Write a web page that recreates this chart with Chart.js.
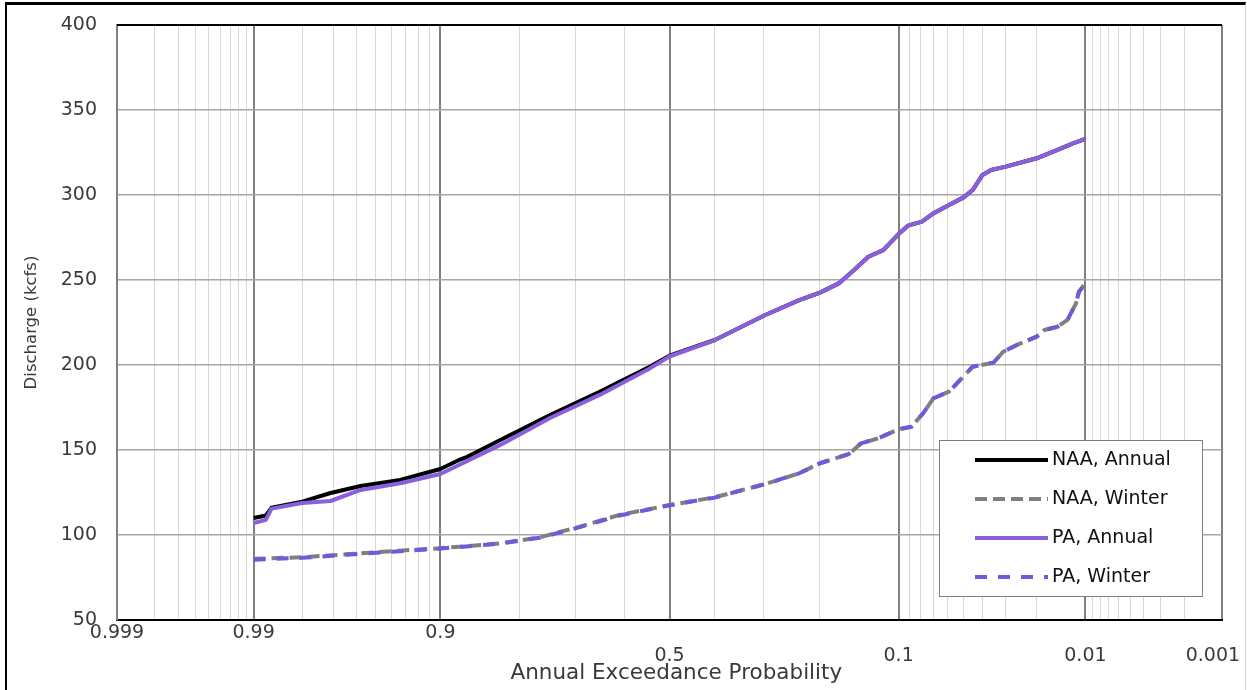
<!DOCTYPE html>
<html>
<head>
<meta charset="utf-8">
<script src="https://cdn.jsdelivr.net/npm/chart.js@4.4.0/dist/chart.umd.min.js"></script>
<style>
  html, body { margin: 0; padding: 0; background: #fff; }
  #wrap { position: relative; width: 1247px; height: 690px; }
  #frame { position: absolute; left: 5px; top: 2px; width: 1238px; height: 688px;
           border-left: 2px solid #000; border-top: 3px solid #000;
           border-right: 1px solid #d0d0d0; pointer-events: none; }
</style>
</head>
<body>
<div id="wrap">
  <canvas id="probChart" width="1247" height="690"></canvas>
  <div id="frame"></div>
</div>
<script>
// tick values on the probability axis
const majorTicks = [0.999, 0.99, 0.9, 0.5, 0.1, 0.01, 0.001];
const minorTicks = [0.998, 0.997, 0.996, 0.995, 0.994, 0.993, 0.992, 0.991,
  0.98, 0.97, 0.96, 0.95, 0.94, 0.93, 0.92, 0.91,
  0.8, 0.7, 0.6, 0.4, 0.3, 0.2,
  0.09, 0.08, 0.07, 0.06, 0.05, 0.04, 0.03, 0.02,
  0.009, 0.008, 0.007, 0.006, 0.005, 0.004, 0.003, 0.002];
const loweredLabels = [0.5, 0.1, 0.01, 0.001]; // these labels sit one line lower

// annual series
const annualProb = [0.99, 0.988, 0.987, 0.98, 0.971, 0.958, 0.934, 0.90, 0.881, 0.871, 0.828, 0.748,
  0.652, 0.544, 0.5, 0.4, 0.296, 0.234, 0.2, 0.172, 0.151, 0.133, 0.116, 0.10, 0.091, 0.079,
  0.070, 0.059, 0.050, 0.045, 0.040, 0.036, 0.030, 0.020, 0.015, 0.012, 0.010];
const naaAnnual = [110, 111.5, 116, 119.6, 124.7, 128.8, 132.4, 138.8, 144, 146, 155.9, 170.6,
  184.3, 199, 205.5, 214.7, 229.4, 238.2, 242.6, 248, 255.9, 263.7, 267.6, 277, 282, 284.3,
  289.2, 294.1, 298.6, 302.9, 311.8, 314.7, 316.7, 321.6, 326.5, 330.4, 333];
const paAnnual = [107, 109, 115.5, 118.8, 120, 126.5, 130.4, 135.9, 141, 143.5, 153, 168.8,
  182.4, 198, 205, 214.7, 229.4, 238.2, 242.6, 248, 255.9, 263.7, 267.6, 277, 282, 284.3,
  289.2, 294.1, 298.6, 302.9, 311.8, 314.7, 316.7, 321.6, 326.5, 330.4, 333];

// winter series
const winterProb = [0.99, 0.98, 0.963, 0.934, 0.90, 0.828, 0.766, 0.692, 0.610, 0.5, 0.4, 0.296,
  0.234, 0.2, 0.158, 0.142, 0.121, 0.10, 0.088, 0.078, 0.070, 0.059, 0.052, 0.045, 0.035,
  0.031, 0.026, 0.020, 0.018, 0.015, 0.013, 0.0115, 0.011, 0.010];
const naaWinter = [86, 86.9, 88.8, 90.8, 92.2, 95.1, 98.6, 104.9, 111.8, 117.6, 122.2, 130,
  136.3, 142.2, 147.6, 153.9, 157, 162.2, 163.7, 171.6, 180.4, 184.3, 191.2, 199, 201.4,
  207.8, 211.8, 216.7, 220.6, 222.5, 226.5, 236.3, 243.1, 248];
const paWinter = [85.5, 86.6, 88.5, 90.5, 92, 95, 98.4, 104.6, 111.5, 117.5, 122, 130,
  136.3, 142.2, 147.6, 153.9, 157, 162.2, 163.7, 171.6, 180.4, 184.3, 191.2, 199, 201.4,
  207.8, 211.8, 216.7, 220.6, 222.5, 226.5, 236.3, 243.1, 248];

const FONT = 'DejaVu Sans';
const TEXT = '#3a3a3a';

// inverse standard normal (Acklam)
function normInv(p) {
  const a = [-39.69683028665376, 220.9460984245205, -275.9285104469687, 138.3577518672690, -30.66479806614716, 2.506628277459239];
  const b = [-54.47609879822406, 161.5858368580409, -155.6989798598866, 66.80131188771972, -13.28068155288572];
  const c = [-0.007784894002430293, -0.3223964580411365, -2.400758277161838, -2.549732539343734, 4.374664141464968, 2.938163982698783];
  const d = [0.007784695709041462, 0.3224671290700398, 2.445134137142996, 3.754408661907416];
  const lo = 0.02425;
  let q, r;
  if (p < lo) {
    q = Math.sqrt(-2 * Math.log(p));
    return (((((c[0]*q+c[1])*q+c[2])*q+c[3])*q+c[4])*q+c[5]) / ((((d[0]*q+d[1])*q+d[2])*q+d[3])*q+1);
  }
  if (p > 1 - lo) {
    q = Math.sqrt(-2 * Math.log(1 - p));
    return -(((((c[0]*q+c[1])*q+c[2])*q+c[3])*q+c[4])*q+c[5]) / ((((d[0]*q+d[1])*q+d[2])*q+d[3])*q+1);
  }
  q = p - 0.5; r = q * q;
  return (((((a[0]*r+a[1])*r+a[2])*r+a[3])*r+a[4])*r+a[5])*q / (((((b[0]*r+b[1])*r+b[2])*r+b[3])*r+b[4])*r+1);
}
function normCdf(z) {
  const t = 1 / (1 + 0.3275911 * Math.abs(z) / Math.SQRT2);
  const y = 1 - (((((1.061405429*t - 1.453152027)*t) + 1.421413741)*t - 0.284496736)*t + 0.254829592)*t * Math.exp(-z*z/2);
  return z >= 0 ? (1 + y) / 2 : (1 - y) / 2;
}

// normal probability scale
class ProbabilityScale extends Chart.Scale {
  determineDataLimits() {
    this.min = this.options.min;
    this.max = this.options.max;
  }
  buildTicks() {
    return majorTicks.map(v => ({ value: v, major: true }))
      .concat(minorTicks.map(v => ({ value: v, major: false })))
      .sort((p, q) => p.value - q.value);
  }
  configure() {
    super.configure();
    this._zStart = normInv(this.min);
    this._zRange = normInv(this.max) - this._zStart;
  }
  getPixelForValue(value) {
    return this.getPixelForDecimal((normInv(value) - this._zStart) / this._zRange);
  }
  getValueForPixel(pixel) {
    return normCdf(this._zStart + this.getDecimalForPixel(pixel) * this._zRange);
  }
  getLabelForValue(value) { return String(value); }
}
ProbabilityScale.id = 'probability';
ProbabilityScale.defaults = {};
Chart.register(ProbabilityScale);

const toPoints = (xs, ys) => xs.map((x, i) => ({ x: x, y: ys[i] }));

// legend drawn inside the plot, plus the black top edge
const insideLegend = {
  id: 'insideLegend',
  afterDraw(chart) {
    const ctx = chart.ctx;
    const area = chart.chartArea;
    ctx.save();
    ctx.strokeStyle = '#000';
    ctx.lineWidth = 2;
    ctx.beginPath();
    ctx.moveTo(area.left, area.top);
    ctx.lineTo(area.right, area.top);
    ctx.stroke();

    const bx = 939.5, by = 440.5, bw = 263, bh = 156;
    ctx.fillStyle = '#fff';
    ctx.fillRect(bx, by, bw, bh);
    ctx.strokeStyle = '#7f7f7f';
    ctx.lineWidth = 1;
    ctx.strokeRect(bx, by, bw, bh);

    ctx.font = '19px "' + FONT + '"';
    ctx.textBaseline = 'middle';
    chart.data.datasets.forEach((ds, i) => {
      const y = 460 + i * 39;
      ctx.strokeStyle = ds.borderColor;
      ctx.lineWidth = ds.borderWidth;
      ctx.setLineDash(ds.borderDash || []);
      ctx.beginPath();
      ctx.moveTo(975, y);
      ctx.lineTo(1048, y);
      ctx.stroke();
      ctx.setLineDash([]);
      ctx.fillStyle = '#111';
      ctx.fillText(ds.label, 1052, y);
    });
    ctx.restore();
  }
};

new Chart(document.getElementById('probChart'), {
  type: 'line',
  data: {
    datasets: [
      { label: 'NAA, Annual', data: toPoints(annualProb, naaAnnual), borderColor: '#000000',
        borderWidth: 4, order: 3 },
      { label: 'NAA, Winter', data: toPoints(winterProb, naaWinter), borderColor: '#7f7f7f',
        borderWidth: 4, borderDash: [12, 6], order: 2 },
      { label: 'PA, Annual', data: toPoints(annualProb, paAnnual), borderColor: '#8a5fdc',
        borderWidth: 4, order: 1 },
      { label: 'PA, Winter', data: toPoints(winterProb, paWinter), borderColor: '#6f5bd9',
        borderWidth: 4, borderDash: [12, 11], order: 0 }
    ]
  },
  options: {
    responsive: false,
    animation: false,
    layout: { padding: { left: 0, top: 25, right: 25, bottom: 0 } },
    elements: {
      point: { radius: 0 },
      line: { tension: 0, fill: false, borderJoinStyle: 'round' }
    },
    plugins: { legend: { display: false }, tooltip: { enabled: false } },
    scales: {
      x: {
        type: 'probability',
        min: 0.001,
        max: 0.999,
        reverse: true,
        afterFit: s => { s.height = 70; s.paddingLeft = 0; s.paddingRight = 0; },
        grid: {
          drawTicks: false,
          color: c => (c.tick && c.tick.major) ? '#808080' : '#d9d9d9',
          lineWidth: c => (c.tick && c.tick.major) ? 2 : 1
        },
        border: { color: '#000', width: 2 },
        ticks: {
          autoSkip: false, maxRotation: 0, minRotation: 0, padding: 2,
          color: TEXT, font: { family: FONT, size: 19 },
          callback: (value, i, ticks) => {
            if (!ticks[i].major) return '';
            // the last label is pulled in from the right edge, as in the source
            const s = value === 0.001 ? '0.001   ' : String(value);
            return loweredLabels.includes(value) ? ['', s] : s;
          }
        },
        title: { display: true, text: '  Annual Exceedance Probability', color: TEXT,
          font: { family: FONT, size: 21.5 }, padding: { top: 0, bottom: 4 } }
      },
      y: {
        min: 50,
        max: 400,
        afterFit: s => { s.width = 117; s.paddingTop = 0; s.paddingBottom = 0; },
        grid: { drawTicks: false, color: '#a6a6a6', lineWidth: 1.5 },
        border: { color: '#808080', width: 2 },
        ticks: { stepSize: 50, padding: 20, color: TEXT, font: { family: FONT, size: 19 } },
        title: { display: true, text: 'Discharge (kcfs)', color: TEXT,
          font: { family: FONT, size: 16.5 }, padding: { top: 22, bottom: 0 } }
      }
    }
  },
  plugins: [insideLegend]
});
</script>
</body>
</html>
